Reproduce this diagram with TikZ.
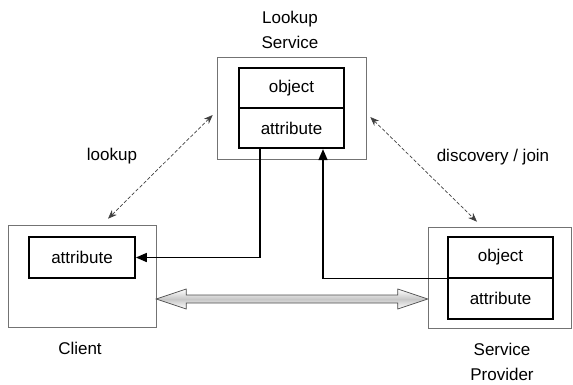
\documentclass[tikz,border=0pt]{standalone}
\usepackage{fontspec}
\setmainfont{Liberation Sans}
\usepackage{tikz}
\usetikzlibrary{calc}
\usetikzlibrary{positioning, arrows.meta}

\begin{document}
\begin{tikzpicture}[x=1pt, y=-1pt,
    every node/.style={font=\fontsize{17}{25}\selectfont},
    outerbox/.style={draw=black!55, line width=0.6pt, rectangle, minimum width=#1, minimum height=102pt, inner sep=0pt},
    innerbox/.style={draw=black, line width=1.7pt, rectangle, minimum width=105pt, minimum height=40.5pt, inner sep=0pt},
    flow/.style={line width=1.6pt, -{Triangle[length=11pt, width=9pt]}},
    dasharrow/.style={draw=black!75, line width=0.7pt, dash pattern=on 3.5pt off 2pt, {Stealth[length=9pt, width=7pt]}-{Stealth[length=9pt, width=7pt]}},
    bigarrow/.style={draw=black!70, line width=0.7pt, top color=white, bottom color=white, middle color=black!22}]
                \useasboundingbox (0,0) rectangle (573,384);

                % Nodes
                \node[outerbox=149pt] (Lookup) at (291.5, 108) {};
                \node[innerbox] (LookupObject) at (291.5, 88) {object};
                \node[innerbox] (LookupAttribute) at (291.5, 128) {attribute};
                \node[align=center] (LookupLabel) at (290, 30) {Lookup\\Service};

                \node[outerbox=148pt] (Client) at (82, 276) {};
                \node[innerbox, minimum width=106pt] (ClientAttribute) at (82, 257.5) {attribute};
                \node (ClientLabel) at (80, 348) {Client};

                \node[outerbox=143pt, minimum height=101pt] (Provider) at (499.5, 277.5) {};
                \node[innerbox] (ProviderObject) at (500.5, 257.5) {object};
                \node[innerbox] (ProviderAttribute) at (500.5, 298.5) {attribute};
                \node[align=center] (ProviderLabel) at (502, 362) {Service\\Provider};

                \node (LookupText) at (112, 156) {lookup};
                \node (DiscoveryText) at (493, 157) {discovery / join};

                % Edges
                % Lookup Service to Client
                \draw[flow] ([xshift=-31.5pt]LookupAttribute.south) |- (ClientAttribute.east);

                % Service Provider to Lookup Service
                \draw[flow] (ProviderObject.south west) -| ([xshift=31.5pt]LookupAttribute.south);

                % lookup and discovery / join
                \draw[dasharrow] ($(Lookup.west)+(-4,7)$) -- ($(Client.north)+(26,-6)$);
                \draw[dasharrow] ($(Lookup.east)+(4,9)$) -- ($(Provider.north)+(-22.5,-5)$);

                % Client to Service Provider
                \coordinate (ArrowLeft) at ($(Client.east)+(0,23)$);
                \coordinate (ArrowRight) at ($(Provider.west)+(0,21.5)$);
                \path[bigarrow] (ArrowLeft) -- ++(30,-10) -- ++(0,6) -- ($(ArrowRight)+(-30,-4)$) -- ++(0,-6)
                    -- (ArrowRight) -- ++(-30,10) -- ++(0,-6) -- ($(ArrowLeft)+(30,4)$) -- ++(0,6) -- cycle;

            \end{tikzpicture}
\end{document}
